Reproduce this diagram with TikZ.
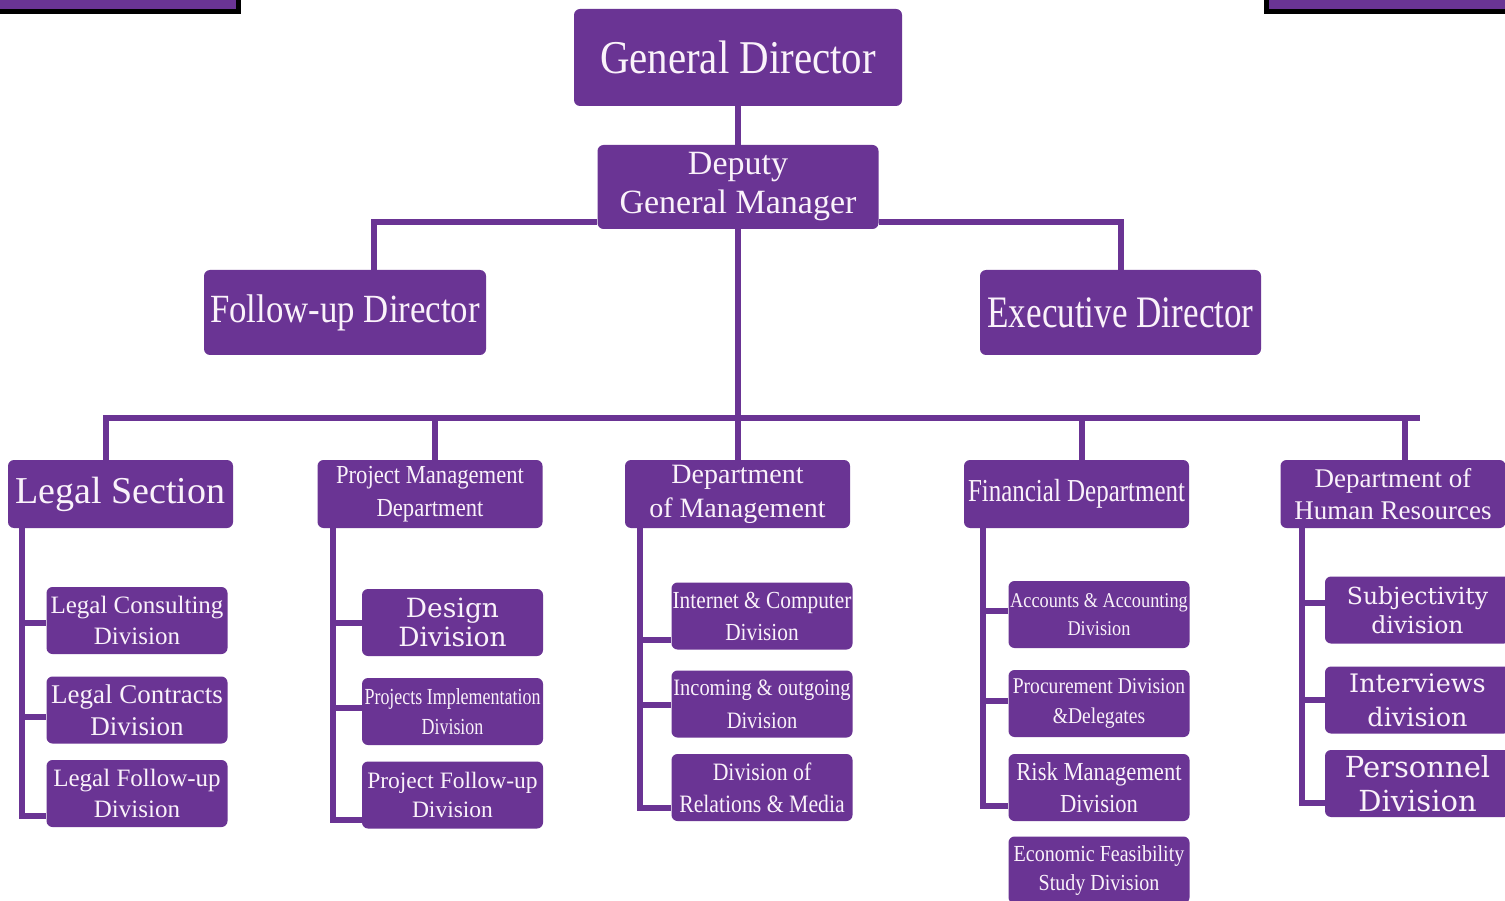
\documentclass[tikz,border=0pt]{standalone}
\usepackage{fontspec}
\setmainfont{Liberation Serif}
\newfontfamily\narrowfont[FakeStretch=0.87]{Liberation Serif}
\newfontfamily\condfont[FakeStretch=0.78]{Liberation Serif}
\newfontfamily\widefont{DejaVu Serif}
\usetikzlibrary{calc}
\definecolor{plum}{HTML}{6A3494}
\definecolor{ink}{HTML}{FAF2FA}
\tikzset{
  box/.style={fill=plum, rounded corners=6pt, text=ink, align=center, inner sep=0pt},
  head/.style={box, minimum height=85pt},
  dept/.style={box, minimum width=225pt, minimum height=68pt},
  div/.style={box, minimum width=181pt, minimum height=67pt},
  link/.style={draw=plum, line width=6pt},
}
\newcommand{\fs}[2]{\fontsize{#1}{#2}\selectfont}

\begin{document}
\begin{tikzpicture}[x=1pt,y=-1pt]
  \useasboundingbox (0,0) rectangle (1505,901);
  \fill[white] (0,0) rectangle (1505,901);
  % boxes cut by the top edge
  \draw[fill=plum, draw=black, line width=5pt] (-10,-10) rectangle (238,12);
  \draw[fill=plum, draw=black, line width=5pt] (1266,-10) rectangle (1515,12);

  \node[head, minimum width=328pt, minimum height=97pt, font=\narrowfont\fs{47}{52}] (GD) at (738,57.5) {General Director};
  \node[head, minimum width=281pt, minimum height=84pt, font=\fs{34}{39}] (DGM) at (738,187) {Deputy\\General Manager};
  \node[head, minimum width=282pt, font=\narrowfont\fs{40}{45}] (FD) at (345,312.5) {Follow-up Director};
  \node[head, minimum width=281pt, font=\condfont\fs{45}{50}] (ED) at (1120.5,312.5) {Executive Director};

  \node[dept, font=\fs{38}{42}] (LS) at (120.5,494) {Legal Section};
  \node[dept, font=\narrowfont\fs{26}{33}] (PM) at (430,494) {Project Management\\Department};
  \node[dept, font=\fs{28}{34}] (DM) at (737.5,494) {Department\\of Management};
  \node[dept, font=\condfont\fs{32}{36}] (FN) at (1076.5,494) {Financial Department};
  \node[dept, font=\fs{27}{32}] (HR) at (1393,494) {Department of\\Human Resources};

  \node[div, font=\fs{25}{31}] (LC) at (137,620.5) {Legal Consulting\\Division};
  \node[div, font=\fs{27}{32}] (LT) at (137,710) {Legal Contracts\\Division};
  \node[div, font=\fs{25}{31}] (LF) at (137,793.5) {Legal Follow-up\\Division};
  \node[div, font=\widefont\fs{26.5}{29}] (DD) at (452.5,622.5) {Design\\Division};
  \node[div, font=\condfont\fs{23}{30}] (PI) at (452.5,711.5) {Projects Implementation\\Division};
  \node[div, font=\fs{23.5}{29}] (PF) at (452.5,795) {Project Follow-up\\Division};
  \node[div, font=\narrowfont\fs{24.5}{32}] (IC) at (762,616) {Internet \& Computer\\Division};
  \node[div, font=\narrowfont\fs{23.5}{33}] (IO) at (762,704) {Incoming \& outgoing\\Division};
  \node[div, font=\narrowfont\fs{25}{32}] (RM) at (762,787.5) {Division of\\Relations \& Media};
  \node[div, font=\narrowfont\fs{21}{28}] (AC) at (1099,614.5) {Accounts \& Accounting\\Division};
  \node[div, font=\narrowfont\fs{22.5}{30}] (PD) at (1099,703.5) {Procurement Division\\\&Delegates};
  \node[div, font=\narrowfont\fs{26}{32}] (RK) at (1099,787.5) {Risk Management\\Division};
  \node[div, font=\narrowfont\fs{23}{29}] (EF) at (1099,870) {Economic Feasibility\\Study Division};
  \node[div, minimum width=185pt, font=\widefont\fs{23.5}{29}] (SJ) at (1417.5,610) {Subjectivity\\division};
  \node[div, minimum width=185pt, font=\widefont\fs{25.5}{34}] (IV) at (1417.5,700) {Interviews\\division};
  \node[div, minimum width=185pt, font=\widefont\fs{29}{34}] (PS) at (1417.5,783.5) {Personnel\\Division};

  % top of the tree
  \draw[link] (GD.south) -- (DGM.north);
  \draw[link] ([xshift=29pt]FD.north) |- ([yshift=-35pt]DGM.west);
  \draw[link] ([yshift=-35pt]DGM.east) -| (ED.north);
  \coordinate (bus) at (0,418);
  \draw[link] (DGM.south) -- (DGM.south |- bus);
  \draw[link] (103,418) -- (1420,418);
  \foreach \p/\dx in {LS/-14.5,PM/5,DM/0.5,FN/5.5,HR/12}
    \draw[link] ([xshift=\dx pt]\p.north) -- ++(0,-42);

  % department spines
  \foreach \p/\dx/\na/\da/\nb/\db/\nc/\dc in {LS/14/LC/2/LT/7/LF/22, PM/16/DD/0/PI/-4/PF/25,
      DM/15/IC/24/IO/1/RM/20, FN/19/AC/-4/PD/-3/RK/18, HR/22/SJ/-7/IV/0/PS/19}{
    \coordinate (sp) at ([xshift=\dx pt]\p.south west);
    \foreach \q/\dy in {\na/\da,\nb/\db,\nc/\dc}
      \draw[link] (sp) |- ($(\q.west)+(0,\dy)$);
  }
\end{tikzpicture}
\end{document}
